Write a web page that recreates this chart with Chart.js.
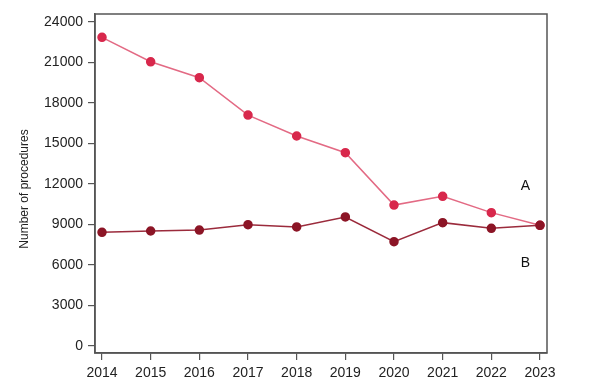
<!DOCTYPE html>
<html>
<head>
<meta charset="utf-8">
<script src="https://cdn.jsdelivr.net/npm/chart.js@4"></script>
<style>
  html, body { margin: 0; padding: 0; background: #fff; }
  #wrap { width: 601px; height: 390px; position: relative; }
</style>
</head>
<body>
<div id="wrap"><canvas id="chart" width="601" height="390"></canvas></div>
<script>
// données
const years = [2014, 2015, 2016, 2017, 2018, 2019, 2020, 2021, 2022, 2023];
const seriesA = [22870, 21060, 19880, 17110, 15560, 14320, 10440, 11090, 9880, 8940];
const seriesB = [8420, 8520, 8590, 8990, 8820, 9560, 7730, 9140, 8720, 8940];
const yTicks = [0, 3000, 6000, 9000, 12000, 15000, 18000, 21000, 24000];
const yTitle = 'Number of procedures';

const frameColor = '#555';
const textColor = '#222';

// cadre complet + titre de l'axe y + étiquettes A / B
const decor = {
    id: 'decor',
    afterDraw(chart) {
        const { ctx, chartArea: a, scales } = chart;
        ctx.save();
        ctx.strokeStyle = frameColor;
        ctx.lineWidth = 1.5;
        ctx.strokeRect(a.left, a.top, a.right - a.left, a.bottom - a.top);

        ctx.fillStyle = textColor;
        ctx.font = '12px "Liberation Sans", Arial, sans-serif';
        ctx.textAlign = 'center';
        ctx.textBaseline = 'middle';
        ctx.translate(25, 189);
        ctx.rotate(-Math.PI / 2);
        ctx.fillText(yTitle, 0, 0);
        ctx.restore();

        ctx.save();
        ctx.fillStyle = '#111';
        ctx.font = '14px "Liberation Sans", Arial, sans-serif';
        ctx.textAlign = 'center';
        ctx.textBaseline = 'middle';
        const x = scales.x.getPixelForValue(2022.7);
        ctx.fillText('A', x, scales.y.getPixelForValue(11850));
        ctx.fillText('B', x, scales.y.getPixelForValue(6150));
        ctx.restore();
    }
};

const toPoints = vals => vals.map((v, i) => ({ x: years[i], y: v }));

new Chart(document.getElementById('chart'), {
    type: 'line',
    data: {
        datasets: [
            {
                label: 'A',
                data: toPoints(seriesA),
                order: 1,
                borderColor: '#e36a84',
                backgroundColor: '#d8284c',
                pointBackgroundColor: '#d8284c',
                pointBorderColor: '#d8284c',
                borderWidth: 1.5,
                pointRadius: 4,
                tension: 0
            },
            {
                label: 'B',
                data: toPoints(seriesB),
                order: 0,
                borderColor: '#9b2b3c',
                backgroundColor: '#8c1526',
                pointBackgroundColor: '#8c1526',
                pointBorderColor: '#8c1526',
                borderWidth: 1.5,
                pointRadius: 4,
                tension: 0
            }
        ]
    },
    options: {
        responsive: false,
        animation: false,
        layout: { padding: { left: 0, top: 14, right: 54, bottom: 0 } },
        plugins: {
            legend: { display: false },
            tooltip: { enabled: false }
        },
        scales: {
            x: {
                type: 'linear',
                min: 2013.856,
                max: 2023.144,
                afterBuildTicks: s => { s.ticks = years.map(v => ({ value: v })); },
                afterFit: s => { s.height = 37; },
                grid: { drawOnChartArea: false, drawTicks: true, tickLength: 7, color: frameColor, lineWidth: 1.2 },
                border: { display: true, color: frameColor, width: 1.5 },
                ticks: {
                    color: textColor,
                    padding: 5,
                    maxRotation: 0,
                    font: { family: '"Liberation Sans", Arial, sans-serif', size: 14 },
                    callback: v => String(v)
                }
            },
            y: {
                min: -520,
                max: 24600,
                afterBuildTicks: s => { s.ticks = yTicks.map(v => ({ value: v })); },
                afterFit: s => { s.width = 95; },
                grid: { drawOnChartArea: false, drawTicks: true, tickLength: 7, color: frameColor, lineWidth: 1.2 },
                border: { display: true, color: frameColor, width: 1.5 },
                ticks: {
                    color: textColor,
                    padding: 5,
                    font: { family: '"Liberation Sans", Arial, sans-serif', size: 14 },
                    callback: v => String(v)
                }
            }
        }
    },
    plugins: [decor]
});
</script>
</body>
</html>
